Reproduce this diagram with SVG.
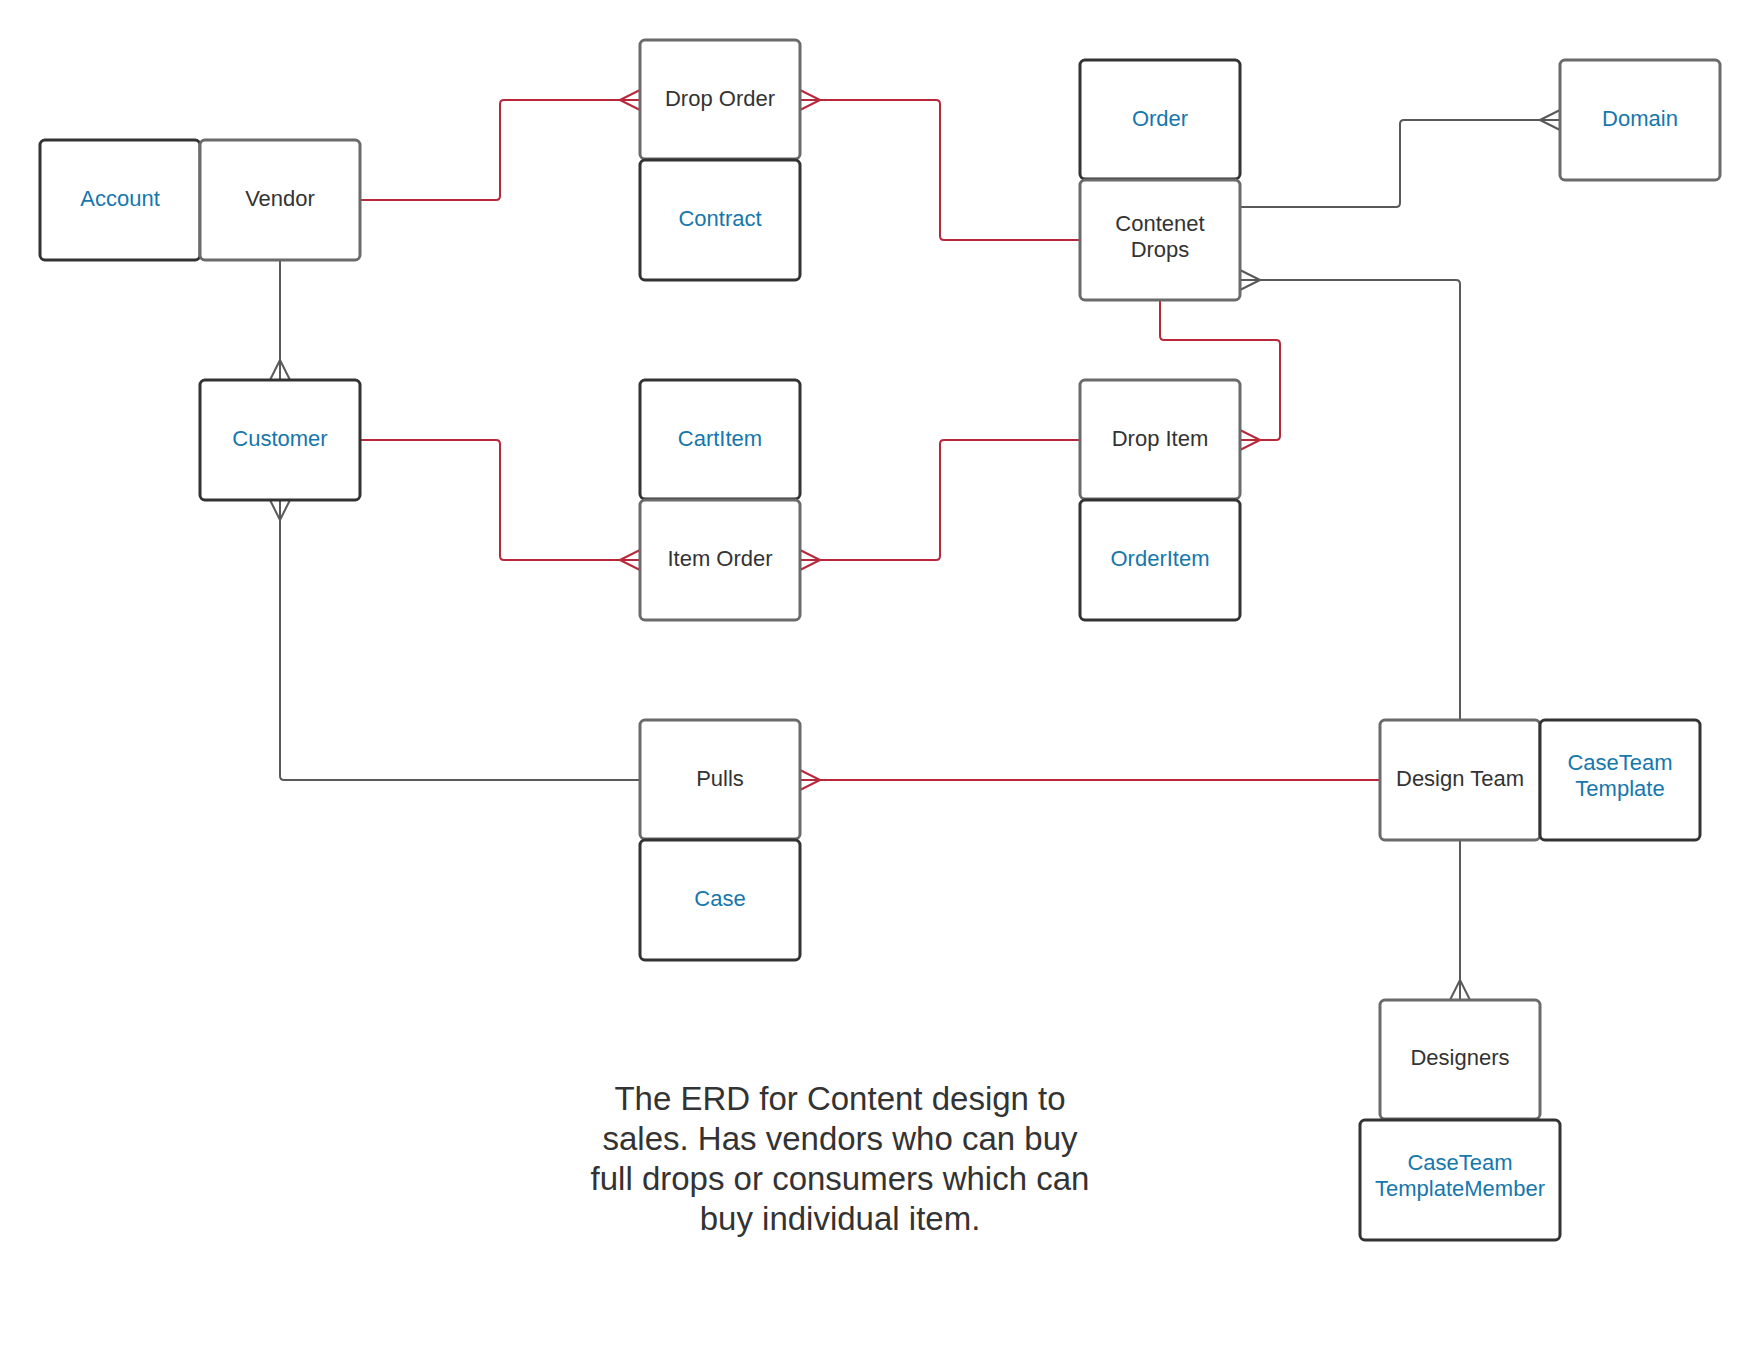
<svg xmlns="http://www.w3.org/2000/svg" width="1760" height="1362" viewBox="0 0 1760 1362">
<style>
.box{fill:#fff;stroke-width:3}
.g{stroke:#6b6b6b}
.d{stroke:#333}
.t{font-family:"Liberation Sans",Arial,sans-serif;font-size:22px;text-anchor:middle;fill:#333}
.b{fill:#1677ad}
.red{fill:none;stroke:#b8283a;stroke-width:2}
.gr{fill:none;stroke:#595959;stroke-width:2}
.cap{font-family:"Liberation Sans",Arial,sans-serif;font-size:33px;text-anchor:middle;fill:#333}
</style>
<rect width="1760" height="1362" fill="#fff"/>
<g id="connectors">
<path class="red" d="M360,200 H496 Q500,200 500,196 V104 Q500,100 504,100 H640 M620,100 L640,90 M620,100 L640,110"/>
<path class="red" d="M800,100 H936 Q940,100 940,104 V236 Q940,240 944,240 H1080 M820,100 L800,90 M820,100 L800,110"/>
<path class="gr" d="M1240,207 H1396 Q1400,207 1400,203 V124 Q1400,120 1404,120 H1560 M1540,120 L1560,110 M1540,120 L1560,130"/>
<path class="gr" d="M1240,280 H1456 Q1460,280 1460,284 V720 M1260,280 L1240,270 M1260,280 L1240,290"/>
<path class="red" d="M1160,300 V336 Q1160,340 1164,340 H1276 Q1280,340 1280,344 V436 Q1280,440 1276,440 H1240 M1260,440 L1240,430 M1260,440 L1240,450"/>
<path class="gr" d="M280,260 V380 M280,360 L270,380 M280,360 L290,380"/>
<path class="red" d="M360,440 H496 Q500,440 500,444 V556 Q500,560 504,560 H640 M620,560 L640,550 M620,560 L640,570"/>
<path class="red" d="M1080,440 H944 Q940,440 940,444 V556 Q940,560 936,560 H800 M820,560 L800,550 M820,560 L800,570"/>
<path class="gr" d="M280,500 V776 Q280,780 284,780 H640 M280,520 L270,500 M280,520 L290,500"/>
<path class="red" d="M1380,780 H800 M820,780 L800,770 M820,780 L800,790"/>
<path class="gr" d="M1460,840 V1000 M1460,980 L1450,1000 M1460,980 L1470,1000"/>
</g>
<g id="account"><rect class="box d" x="40" y="140" width="160" height="120" rx="5"/><text class="t b" x="120" y="206">Account</text></g>
<g id="vendor"><rect class="box g" x="200" y="140" width="160" height="120" rx="5"/><text class="t" x="280" y="206">Vendor</text></g>
<g id="drop-order"><rect class="box g" x="640" y="40" width="160" height="119" rx="5"/><text class="t" x="720" y="106">Drop Order</text></g>
<g id="contract"><rect class="box d" x="640" y="160" width="160" height="120" rx="5"/><text class="t b" x="720" y="226">Contract</text></g>
<g id="order"><rect class="box d" x="1080" y="60" width="160" height="119" rx="5"/><text class="t b" x="1160" y="126">Order</text></g>
<g id="contenet-drops"><rect class="box g" x="1080" y="180" width="160" height="120" rx="5"/><text class="t" x="1160" y="231">Contenet</text><text class="t" x="1160" y="257">Drops</text></g>
<g id="domain"><rect class="box g" x="1560" y="60" width="160" height="120" rx="5"/><text class="t b" x="1640" y="126">Domain</text></g>
<g id="customer"><rect class="box d" x="200" y="380" width="160" height="120" rx="5"/><text class="t b" x="280" y="446">Customer</text></g>
<g id="cartitem"><rect class="box d" x="640" y="380" width="160" height="119" rx="5"/><text class="t b" x="720" y="446">CartItem</text></g>
<g id="item-order"><rect class="box g" x="640" y="500" width="160" height="120" rx="5"/><text class="t" x="720" y="566">Item Order</text></g>
<g id="drop-item"><rect class="box g" x="1080" y="380" width="160" height="119" rx="5"/><text class="t" x="1160" y="446">Drop Item</text></g>
<g id="orderitem"><rect class="box d" x="1080" y="500" width="160" height="120" rx="5"/><text class="t b" x="1160" y="566">OrderItem</text></g>
<g id="pulls"><rect class="box g" x="640" y="720" width="160" height="119" rx="5"/><text class="t" x="720" y="786">Pulls</text></g>
<g id="case"><rect class="box d" x="640" y="840" width="160" height="120" rx="5"/><text class="t b" x="720" y="906">Case</text></g>
<g id="design-team"><rect class="box g" x="1380" y="720" width="160" height="120" rx="5"/><text class="t" x="1460" y="786">Design Team</text></g>
<g id="caseteam-template"><rect class="box d" x="1540" y="720" width="160" height="120" rx="5"/><text class="t b" x="1620" y="770">CaseTeam</text><text class="t b" x="1620" y="796">Template</text></g>
<g id="designers"><rect class="box g" x="1380" y="1000" width="160" height="119" rx="5"/><text class="t" x="1460" y="1065">Designers</text></g>
<g id="caseteam-templatemember"><rect class="box d" x="1360" y="1120" width="200" height="120" rx="5"/><text class="t b" x="1460" y="1170">CaseTeam</text><text class="t b" x="1460" y="1196">TemplateMember</text></g>
<g id="caption">
<text class="cap" x="840" y="1110">The ERD for Content design to</text>
<text class="cap" x="840" y="1150">sales. Has vendors who can buy</text>
<text class="cap" x="840" y="1190">full drops or consumers which can</text>
<text class="cap" x="840" y="1230">buy individual item.</text>
</g>
</svg>
